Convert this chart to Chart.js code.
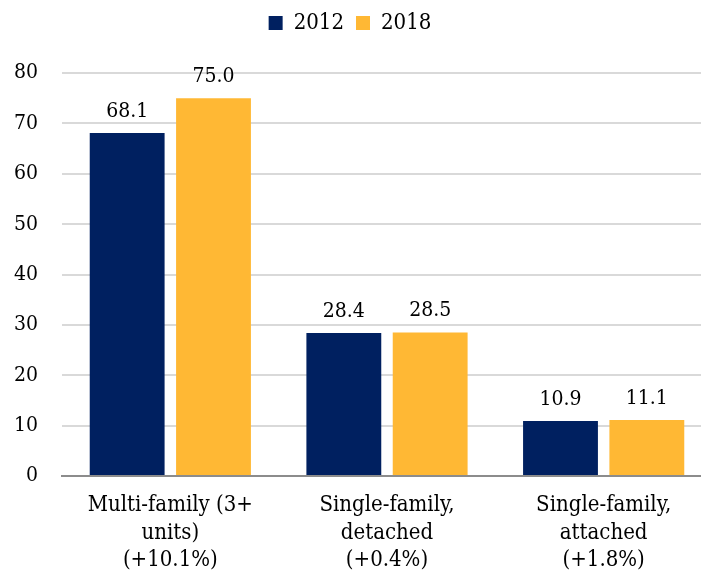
<!DOCTYPE html>
<html>
<head>
<meta charset="utf-8">
<script src="https://cdn.jsdelivr.net/npm/chart.js@4/dist/chart.umd.min.js"></script>
<style>
  html, body { margin: 0; padding: 0; background: #fff; }
  #wrap { width: 701px; height: 575px; }
</style>
</head>
<body>
<div id="wrap"><canvas id="myChart"></canvas></div>
<script>
// housing types and values by year
const categories = [
  ["Multi-family (3+", "units)", "(+10.1%)"],
  ["Single-family,", "detached", "(+0.4%)"],
  ["Single-family,", "attached", "(+1.8%)"]
];
const years = ["2012", "2018"];
const values2012 = [68.1, 28.4, 10.9];
const values2018 = [75.0, 28.5, 11.1];
const yTicks = [0, 10, 20, 30, 40, 50, 60, 70, 80];

const fontFamily = "'DejaVu Serif Condensed', 'DejaVu Serif', serif";

// numbers above each bar
const barLabels = {
  id: "barLabels",
  afterDatasetsDraw(chart) {
    const ctx = chart.ctx;
    ctx.save();
    ctx.font = "21px " + fontFamily;
    ctx.fillStyle = "#000";
    ctx.textAlign = "center";
    ctx.textBaseline = "alphabetic";
    chart.data.datasets.forEach((ds, i) => {
      chart.getDatasetMeta(i).data.forEach((bar, j) => {
        ctx.fillText(ds.data[j].toFixed(1), bar.x, bar.y - 16);
      });
    });
    ctx.restore();
  }
};

// fixed height for the legend block
const legendSpace = {
  id: "legendSpace",
  beforeInit(chart) {
    const fit = chart.legend.fit;
    chart.legend.fit = function () {
      fit.bind(chart.legend)();
      this.height = 73;
    };
  }
};

// the plot runs a bit past the right edge of the canvas
const overhang = 12;
const widenPlot = {
  id: "widenPlot",
  afterLayout(chart) {
    const x = chart.scales.x;
    chart.chartArea.right += overhang;
    chart.chartArea.width += overhang;
    x.right += overhang;
    x.width += overhang;
    x.configure();
  }
};

const config = {
  type: "bar",
  data: {
    labels: categories,
    datasets: [
      {
        label: years[0],
        data: values2012,
        backgroundColor: "#002060",
        categoryPercentage: 0.797,
        barPercentage: 0.867
      },
      {
        label: years[1],
        data: values2018,
        backgroundColor: "#FFB834",
        categoryPercentage: 0.797,
        barPercentage: 0.867
      }
    ]
  },
  options: {
    responsive: true,
    maintainAspectRatio: false,
    animation: false,
    layout: { padding: { left: 0, right: 1, top: 0, bottom: 0 } },
    plugins: {
      legend: {
        position: "top",
        labels: {
          boxWidth: 14,
          boxHeight: 14,
          padding: 12,
          color: "#000",
          font: { family: fontFamily, size: 22 }
        }
      },
      tooltip: { enabled: false }
    },
    scales: {
      x: {
        grid: { display: false, drawTicks: false },
        border: { color: "#8c8c8c", width: 2 },
        ticks: {
          color: "#000",
          padding: 16,
          maxRotation: 0,
          font: { family: fontFamily, size: 22, lineHeight: 1.25 }
        },
        afterFit(scale) { scale.height = 99; }
      },
      y: {
        min: 0,
        max: 80,
        afterBuildTicks(scale) {
          scale.ticks = yTicks.map(v => ({ value: v }));
        },
        grid: { color: "#d9d9d9", lineWidth: 2, drawTicks: false },
        border: { display: false },
        ticks: {
          color: "#000",
          padding: 24,
          font: { family: fontFamily, size: 21 }
        },
        afterFit(scale) { scale.width = 62; }
      }
    }
  },
  plugins: [barLabels, legendSpace, widenPlot]
};

new Chart(document.getElementById("myChart"), config);
</script>
</body>
</html>
